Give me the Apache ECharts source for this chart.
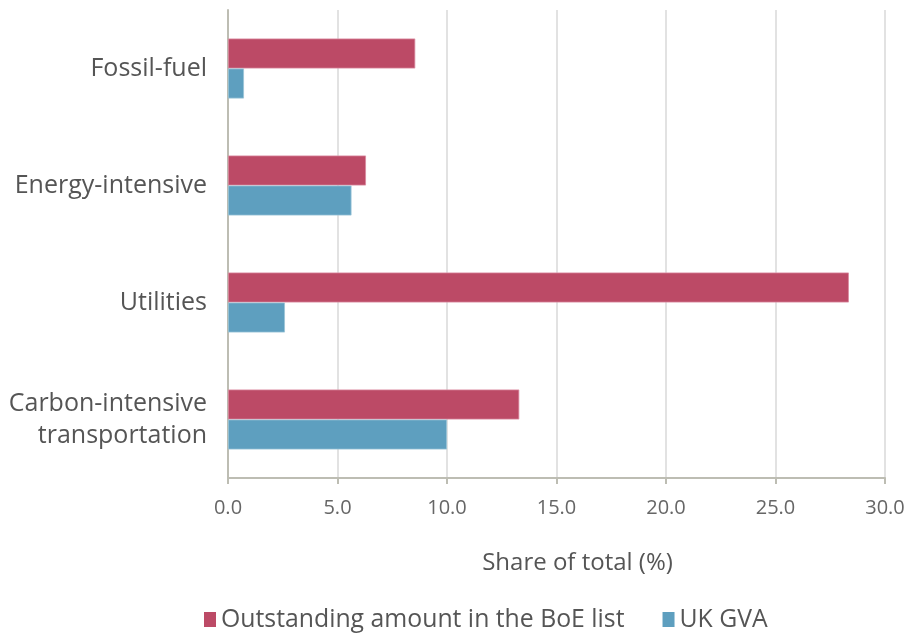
<!DOCTYPE html>
<html>
<head>
<meta charset="utf-8">
<script src="https://cdn.jsdelivr.net/npm/echarts@6/dist/echarts.min.js"></script>
<style>
  html, body { margin: 0; padding: 0; background: #fff; }
  #chart { width: 908px; height: 633px; }
</style>
</head>
<body>
<div id="chart"></div>
<script>
// Sector categories, top to bottom
var categories = ['Fossil-fuel', 'Energy-intensive', 'Utilities', 'Carbon-intensive\ntransportation'];
// Share of total (%) per sector
var boeList = [8.55, 6.3, 28.35, 13.3];
var ukGva = [0.73, 5.64, 2.6, 10.0];
var seriesNames = ['Outstanding amount in the BoE list', 'UK GVA'];
var xTicks = [0, 5, 10, 15, 20, 25, 30];

var FONT = 'Open Sans';
var chart = echarts.init(document.getElementById('chart'));
chart.setOption({
  animation: false,
  textStyle: { fontFamily: FONT },
  grid: { left: 228, right: 23, top: 10, bottom: 155, containLabel: false },
  legend: {
    left: 199,
    top: 602,
    itemWidth: 12,
    itemHeight: 15,
    itemGap: 38,
    icon: 'rect',
    itemStyle: { borderWidth: 0 },
    textStyle: { fontFamily: FONT, fontSize: 24.8, color: '#555' },
    data: seriesNames
  },
  xAxis: {
    type: 'value',
    min: xTicks[0],
    max: xTicks[xTicks.length - 1],
    interval: 5,
    name: 'Share of total (%)',
    nameLocation: 'middle',
    nameGap: 73,
    nameTextStyle: { fontFamily: FONT, fontSize: 24, color: '#555', padding: [0, 0, 0, 42] },
    axisLine: { show: true, lineStyle: { color: '#bdbdb3', width: 2 } },
    axisTick: { show: true, length: 6, lineStyle: { color: '#bdbdb3', width: 2 } },
    axisLabel: {
      margin: 20,
      fontSize: 20,
      color: '#666',
      formatter: function (v) { return v.toFixed(1); }
    },
    splitLine: { show: true, lineStyle: { color: '#d9d9d9', width: 1.5 } }
  },
  yAxis: {
    type: 'category',
    inverse: true,
    data: categories,
    axisLine: { show: true, lineStyle: { color: '#bdbdb3', width: 2 } },
    axisTick: { show: false },
    axisLabel: {
      margin: 21,
      fontSize: 25,
      color: '#555',
      lineHeight: 32,
      align: 'right'
    }
  },
  series: [
    {
      name: seriesNames[0],
      type: 'bar',
      data: boeList,
      barGap: '0%',
      barCategoryGap: '48.7%',
      itemStyle: { color: '#bc4a66', borderColor: '#d98aa0', borderWidth: 0.8 }
    },
    {
      name: seriesNames[1],
      type: 'bar',
      data: ukGva,
      itemStyle: { color: '#5e9fbf', borderColor: '#9cc5d8', borderWidth: 0.8 }
    }
  ]
});
</script>
</body>
</html>
